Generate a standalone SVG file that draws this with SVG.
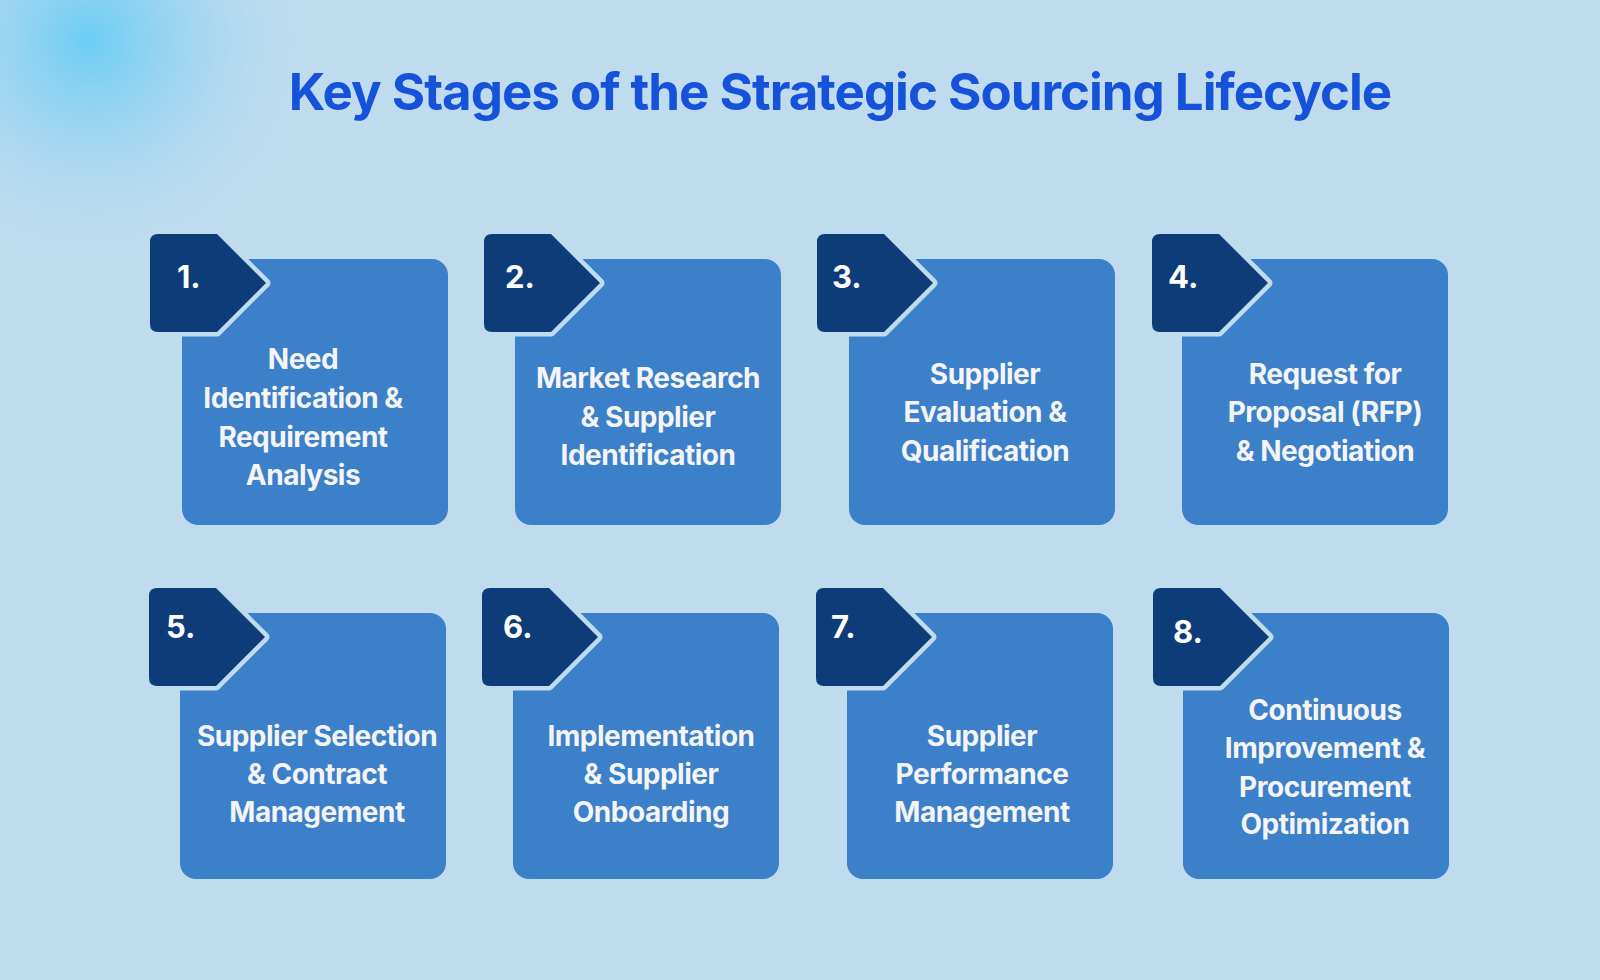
<svg xmlns="http://www.w3.org/2000/svg" width="1600" height="980" viewBox="0 0 1600 980">
<defs>
<radialGradient id="glow" cx="90" cy="40" r="230" gradientUnits="userSpaceOnUse">
<stop offset="0" stop-color="#6ccdf4"/><stop offset="0.4" stop-color="#8fd2f2" stop-opacity="0.7"/><stop offset="1" stop-color="#bfdcef" stop-opacity="0"/>
</radialGradient>
<path id="badge" d="M8,0 H67 L116,49 L67,98 H8 Q0,98 0,90 V8 Q0,0 8,0 Z"/>
</defs>
<style>
.card{fill:#3b80c8}
.bd{fill:#0d3c78;stroke:#bfdcef;stroke-width:9;stroke-linejoin:round;paint-order:stroke}
.num{font-family:Inter,"Liberation Sans",sans-serif;font-weight:700;font-size:31px;fill:#fff}
.lbl{font-family:Inter,"Liberation Sans",sans-serif;font-weight:700;font-size:28px;fill:#f4f4f6;text-anchor:middle;letter-spacing:-0.5px}
.title{font-family:Inter,"Liberation Sans",sans-serif;font-weight:700;font-size:51px;fill:#1551d9;text-anchor:middle;letter-spacing:-1px}
</style>
<rect width="1600" height="980" fill="#bfdcef"/>
<rect width="1600" height="980" fill="url(#glow)"/>
<text class="title" x="840" y="110">Key Stages of the Strategic Sourcing Lifecycle</text>
<g id="connectors"/>
<g id="n1"><rect class="card" x="182" y="259" width="266" height="266" rx="16"/><use href="#badge" class="bd" x="150" y="234"/><text class="num" x="177" y="288">1.</text>
<text class="lbl" x="303"><tspan x="303" y="369">Need</tspan><tspan x="303" y="408">Identification &amp;</tspan><tspan x="303" y="447">Requirement</tspan><tspan x="303" y="485">Analysis</tspan></text></g>
<g id="n2"><rect class="card" x="515" y="259" width="266" height="266" rx="16"/><use href="#badge" class="bd" x="484" y="234"/><text class="num" x="505" y="288">2.</text>
<text class="lbl"><tspan x="648" y="388">Market Research</tspan><tspan x="648" y="427">&amp; Supplier</tspan><tspan x="648" y="465">Identification</tspan></text></g>
<g id="n3"><rect class="card" x="849" y="259" width="266" height="266" rx="16"/><use href="#badge" class="bd" x="817" y="234"/><text class="num" x="832" y="288">3.</text>
<text class="lbl"><tspan x="985" y="384">Supplier</tspan><tspan x="985" y="422">Evaluation &amp;</tspan><tspan x="985" y="461">Qualification</tspan></text></g>
<g id="n4"><rect class="card" x="1182" y="259" width="266" height="266" rx="16"/><use href="#badge" class="bd" x="1152" y="234"/><text class="num" x="1168" y="288">4.</text>
<text class="lbl"><tspan x="1325" y="384">Request for</tspan><tspan x="1325" y="422">Proposal (RFP)</tspan><tspan x="1325" y="461">&amp; Negotiation</tspan></text></g>
<g id="n5"><rect class="card" x="180" y="613" width="266" height="266" rx="16"/><use href="#badge" class="bd" x="149" y="588"/><text class="num" x="166" y="638">5.</text>
<text class="lbl"><tspan x="317" y="746">Supplier Selection</tspan><tspan x="317" y="784">&amp; Contract</tspan><tspan x="317" y="822">Management</tspan></text></g>
<g id="n6"><rect class="card" x="513" y="613" width="266" height="266" rx="16"/><use href="#badge" class="bd" x="482" y="588"/><text class="num" x="503" y="638">6.</text>
<text class="lbl"><tspan x="651" y="746">Implementation</tspan><tspan x="651" y="784">&amp; Supplier</tspan><tspan x="651" y="822">Onboarding</tspan></text></g>
<g id="n7"><rect class="card" x="847" y="613" width="266" height="266" rx="16"/><use href="#badge" class="bd" x="816" y="588"/><text class="num" x="831" y="638">7.</text>
<text class="lbl"><tspan x="982" y="746">Supplier</tspan><tspan x="982" y="784">Performance</tspan><tspan x="982" y="822">Management</tspan></text></g>
<g id="n8"><rect class="card" x="1183" y="613" width="266" height="266" rx="16"/><use href="#badge" class="bd" x="1153" y="588"/><text class="num" x="1173" y="643">8.</text>
<text class="lbl"><tspan x="1325" y="720">Continuous</tspan><tspan x="1325" y="758">Improvement &amp;</tspan><tspan x="1325" y="797">Procurement</tspan><tspan x="1325" y="834">Optimization</tspan></text></g>
</svg>
